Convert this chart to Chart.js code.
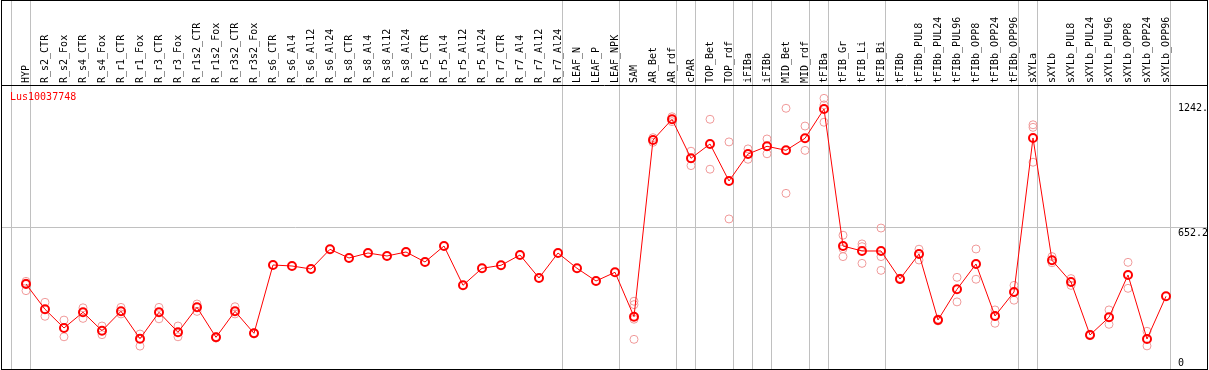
<!DOCTYPE html>
<html>
<head>
<meta charset="utf-8">
<script src="https://cdn.jsdelivr.net/npm/chart.js@4"></script>
<style>
  html, body { margin: 0; padding: 0; background: #fff; }
  #wrap { position: relative; width: 1209px; height: 370px; }
</style>
</head>
<body>
<div id="wrap"><canvas id="chart"></canvas></div>
<script>
// --- Data ---
const geneId = 'Lus10037748';

const categories = [
  'HYP', 'R_s2_CTR', 'R_s2_Fox', 'R_s4_CTR', 'R_s4_Fox', 'R_r1_CTR', 'R_r1_Fox', 'R_r3_CTR', 'R_r3_Fox',
  'R_r1s2_CTR', 'R_r1s2_Fox', 'R_r3s2_CTR', 'R_r3s2_Fox', 'R_s6_CTR', 'R_s6_Al4', 'R_s6_Al12', 'R_s6_Al24',
  'R_s8_CTR', 'R_s8_Al4', 'R_s8_Al12', 'R_s8_Al24', 'R_r5_CTR', 'R_r5_Al4', 'R_r5_Al12', 'R_r5_Al24',
  'R_r7_CTR', 'R_r7_Al4', 'R_r7_Al12', 'R_r7_Al24', 'LEAF_N', 'LEAF_P', 'LEAF_NPK', 'SAM', 'AR_Bet', 'AR_rdf',
  'cPAR', 'TOP_Bet', 'TOP_rdf', 'iFIBa', 'iFIBb', 'MID_Bet', 'MID_rdf', 'tFIBa', 'tFIB_Gr', 'tFIB_Li', 'tFIB_Bi',
  'tFIBb', 'tFIBb_PUL8', 'tFIBb_PUL24', 'tFIBb_PUL96', 'tFIBb_OPP8', 'tFIBb_OPP24', 'tFIBb_OPP96',
  'sXYLa', 'sXYLb', 'sXYLb_PUL8', 'sXYLb_PUL24', 'sXYLb_PUL96', 'sXYLb_OPP8', 'sXYLb_OPP24', 'sXYLb_OPP96'
];

// mean expression per sample
const means = [
  387.5, 268, 179.6, 253.8, 166.8, 258.5, 129, 253.8, 159.3, 277.4, 135.6, 258.5, 154.5,
  477.3, 472.6, 458.4, 551.5, 510.4, 534, 519.9, 538.8, 491.5, 567.1, 381.4, 461.7,
  475.9, 524.6, 415.9, 534, 461.7, 401.7, 442.8, 233, 1068, 1165.9,
  981.6, 1049.2, 874.3, 1001.9, 1038.3, 1019.4, 1076.1, 1214.6, 567.1, 543.5, 543.5,
  411.2, 529.3, 217.4, 362.5, 482.1, 236.3, 349.7,
  1077.5, 499.5, 397, 146.5, 230.2, 430.1, 127.6, 329.4
];

// individual replicates per sample (empty = not shown)
const replicates = [
  [400, 392, 356], [301, 235], [217, 138], [275, 225], [189, 148], [277, 246], [151, 94], [277, 223], [189, 138],
  [293, 258], [139, 132], [280, 246], [157, 152], [], [], [], [],
  [], [], [], [], [], [], [], [],
  [], [], [], [], [], [], [], [306, 290, 221, 126], [1079, 1057], [1178, 1155],
  [1015, 947], [1166, 930], [1059, 695], [1026, 977], [1073, 1003], [1218, 816], [1134, 1019], [1265, 1234, 1152],
  [618, 554, 517], [577, 564, 485], [652, 517, 452],
  [415, 408], [552, 501], [222, 213], [419, 303], [553, 410], [265, 202], [381, 311],
  [1140, 1128, 963], [517, 488], [413, 381], [150, 143], [265, 197], [490, 367], [164, 95], []
];

// group separators drawn just after these sample indices
const separators = [-1, 0, 28, 31, 34, 35, 37, 38, 39, 41, 42, 45, 52, 53, 60];

const yTicks = [0, 652.2, 1242];
const yTickLabels = ['0', '652.2', '1242.'];

// --- Scale ranges ---
const X_MIN = -1.263, X_MAX = 60.526;
const Y_MIN = -14.2, Y_MAX = 1328;

const FONT = 'DejaVu Sans Mono';
const RED = '#ff0000';
const REP_COLOR = '#f09a9a';
const SEP_COLOR = '#c0c0c0';

const meanPoints = means.map((v, i) => ({ x: i, y: v }));
const repPoints = [];
replicates.forEach((reps, i) => reps.forEach(v => repPoints.push({ x: i, y: v })));

// frame, group separators and gene id
const framePlugin = {
  id: 'frame',
  beforeDatasetsDraw(chart) {
    const { ctx, scales: { x } } = chart;
    ctx.save();
    ctx.strokeStyle = SEP_COLOR;
    ctx.lineWidth = 1;
    separators.forEach(i => {
      const px = Math.round(x.getPixelForValue(i)) + 4.5;
      ctx.beginPath();
      ctx.moveTo(px, 0);
      ctx.lineTo(px, 369);
      ctx.stroke();
    });
    ctx.restore();
  },
  afterDraw(chart) {
    const { ctx } = chart;
    ctx.save();
    ctx.strokeStyle = '#000';
    ctx.lineWidth = 1;
    ctx.strokeRect(1.5, 0.5, 1206, 369);
    ctx.beginPath();
    ctx.moveTo(1, 85.5);
    ctx.lineTo(1208, 85.5);
    ctx.stroke();
    ctx.fillStyle = RED;
    ctx.font = '10px "' + FONT + '"';
    ctx.textBaseline = 'top';
    ctx.fillText(geneId, 10, 92);
    ctx.restore();
  }
};

new Chart(document.getElementById('chart'), {
  type: 'line',
  data: {
    datasets: [
      {
        label: 'mean',
        data: meanPoints,
        borderColor: RED,
        borderWidth: 1,
        pointRadius: 4,
        pointBorderWidth: 2,
        pointBorderColor: RED,
        pointBackgroundColor: 'rgba(0,0,0,0)',
        order: 1
      },
      {
        label: 'replicates',
        data: repPoints,
        showLine: false,
        pointRadius: 4,
        pointBorderWidth: 1,
        pointBorderColor: REP_COLOR,
        pointBackgroundColor: 'rgba(0,0,0,0)',
        order: 2
      }
    ]
  },
  options: {
    responsive: true,
    maintainAspectRatio: false,
    animation: false,
    layout: { autoPadding: false, padding: { left: 2, right: 2, top: 0, bottom: 1 } },
    plugins: { legend: { display: false }, tooltip: { enabled: false } },
    scales: {
      x: {
        type: 'linear',
        position: 'top',
        min: X_MIN,
        max: X_MAX,
        afterFit: s => {
          s.height = 85;
          s.paddingLeft = 0;
          s.paddingRight = 0;
        },
        afterBuildTicks: s => { s.ticks = categories.map((_, i) => ({ value: i })); },
        grid: { display: false },
        border: { display: false },
        ticks: {
          autoSkip: false,
          minRotation: 90,
          maxRotation: 90,
          padding: -6,
          labelOffset: 12,
          color: '#000',
          font: { family: FONT, size: 10 },
          callback: v => categories[v]
        }
      },
      y: {
        type: 'linear',
        position: 'right',
        min: Y_MIN,
        max: Y_MAX,
        afterFit: s => {
          s.width = 31;
          s.paddingTop = 0;
          s.paddingBottom = 0;
        },
        afterBuildTicks: s => { s.ticks = yTicks.map(v => ({ value: v })); },
        grid: {
          color: c => (c.tick && c.tick.value === 652.2) ? SEP_COLOR : 'rgba(0,0,0,0)',
          drawTicks: true,
          tickLength: 31
        },
        border: { display: false },
        ticks: {
          padding: -29,
          labelOffset: 5,
          color: '#000',
          font: c => ({ family: FONT, size: 10, lineHeight: (c.tick && c.tick.value === 0) ? 1.6 : 1.2 }),
          callback: v => {
            const s = yTickLabels[yTicks.indexOf(v)];
            return v === 0 ? [s, ''] : s;
          }
        }
      }
    }
  },
  plugins: [framePlugin]
});
</script>
</body>
</html>
